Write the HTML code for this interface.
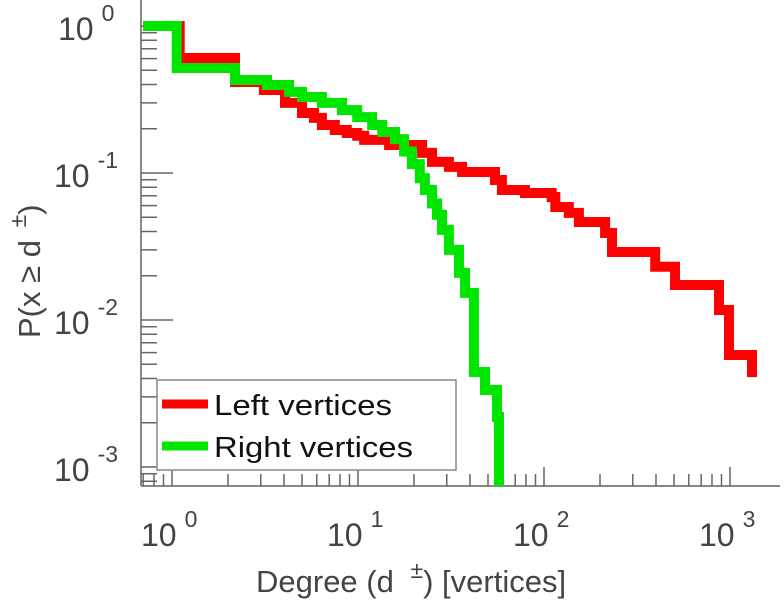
<!DOCTYPE html>
<html><head><meta charset="utf-8"><style>
body{margin:0;background:#fff;}
svg{display:block;font-family:"Liberation Sans",sans-serif;}
</style></head><body>
<svg id="chart" width="784" height="600" viewBox="0 0 784 600" xmlns="http://www.w3.org/2000/svg">
<g id="axes"></g>
<g id="series"></g>
<g id="legend">
<rect x="157" y="380" width="299" height="90" fill="#fff" stroke="#888" stroke-width="1.5"/>
<line x1="162" y1="404" x2="208" y2="404" stroke="#ff0000" stroke-width="9"/>
<text x="214" y="415" font-size="29" fill="#111" textLength="178" lengthAdjust="spacingAndGlyphs">Left vertices</text>
<line x1="162" y1="446" x2="208" y2="446" stroke="#00e600" stroke-width="9"/>
<text x="214" y="457" font-size="29" fill="#111" textLength="199" lengthAdjust="spacingAndGlyphs">Right vertices</text>
</g>
<text x="256" y="592" font-size="31" fill="#444">Degree (d <tspan dx="8" dy="-14" font-size="23">±</tspan><tspan dy="14">) [vertices]</tspan></text>
<text transform="translate(40,338) rotate(-90)" font-size="31" fill="#444">P(x ≥ d <tspan dx="4" dy="-14" font-size="23">±</tspan><tspan dy="14">)</tspan></text>
</svg>
<script>
const xTickExps=[0,1,2,3];
const yTickExps=[0,-1,-2,-3];
const leftX=[0.7,1.1,1.1,2.18,2.18,3.12,3.12,4.05,4.05,5.0,5.0,5.8,6.4,7.5,8.7,9.9,10.8,14.7,18.8,22.1,25,30.8,36.3,50.6,54.5,59.4,79,110,115,136,154,205,213,232,232,396,396,506,506,873,873,988,988,1313,1313];
const leftY=[1,1,0.606,0.606,0.416,0.416,0.367,0.367,0.30,0.30,0.256,0.237,0.212,0.196,0.187,0.179,0.168,0.155,0.155,0.137,0.119,0.110,0.1016,0.1016,0.0896,0.0766,0.0731,0.0687,0.0587,0.0535,0.0464,0.0464,0.0391,0.035,0.029,0.029,0.023,0.023,0.0173,0.0173,0.0117,0.0117,0.00578,0.00578,0.00409];
const rightX=[0.7,1.06,1.06,2.18,2.18,3.24,3.24,4.26,4.26,5.0,6.4,8.2,9.9,11.9,13.5,15.8,17.7,19.5,21.5,22.9,25,26.6,28.3,30.8,34.9,37.6,42.0,42.0,48.2,48.2,55.9,55.9,57.3];
const rightY=[1,1,0.518,0.518,0.429,0.429,0.397,0.397,0.356,0.329,0.30,0.268,0.240,0.212,0.19,0.17,0.14,0.115,0.092,0.0766,0.062,0.052,0.041,0.030,0.0209,0.0153,0.0105,0.00443,0.00443,0.00334,0.00334,0.00219,0.00073];

const X0=172,DX=186,Y0=26,DY=147,AX=141,AY=486,XR=780;
function sx(v){return X0+DX*Math.log10(v);}
function sy(v){return Y0-DY*Math.log10(v);}
const NS="http://www.w3.org/2000/svg";
function mk(tag,attrs,parent){const e=document.createElementNS(NS,tag);for(const k in attrs)e.setAttribute(k,attrs[k]);parent.appendChild(e);return e;}
const axes=document.getElementById('axes');
let l=mk('line',{x1:AX,y1:0,x2:AX,y2:AY,stroke:'#888','stroke-width':2},axes);


l=mk('line',{x1:AX,y1:AY,x2:XR,y2:AY,stroke:'#888','stroke-width':2},axes);


for(let e=-1;e<=3;e++){for(let m=1;m<10;m++){const v=m*Math.pow(10,e);const px=sx(v);if(px<AX||px>XR)continue;
 const t=mk('line',{x1:px,y1:AY,x2:px,y2:AY-(m===1?19:12),stroke:'#666','stroke-width':1.5},axes);
 
 }}
for(let e=-4;e<=0;e++){for(let m=1;m<10;m++){const v=m*Math.pow(10,e);const py=sy(v);if(py<0||py>AY)continue;
 const t=mk('line',{x1:AX,y1:py,x2:AX+(m===1?32:16),y2:py,stroke:'#666','stroke-width':1.5},axes);
 
 }}
xTickExps.forEach(e=>{const px=sx(Math.pow(10,e));
 const t=mk('text',{x:px-31,y:546,'font-size':32,fill:'#444'},axes);
 
 
 t.innerHTML='10<tspan dx="8" dy="-19" font-size="23">'+e+'</tspan>';});
yTickExps.forEach(e=>{const py=sy(Math.pow(10,e));
 const t=mk('text',{x:(e<0?54:58),y:py+14,'font-size':32,fill:'#444'},axes);
 
 
 t.innerHTML='10<tspan dx="8" dy="-19" font-size="23">'+e+'</tspan>';});
const ser=document.getElementById('series');
function draw(xs,ys,color,name){
 let d='M'+sx(xs[0]).toFixed(1)+','+Math.min(sy(ys[0]),AY).toFixed(1);
 for(let i=1;i<xs.length;i++){d+=' H'+sx(xs[i]).toFixed(1)+' V'+Math.min(sy(ys[i]),AY).toFixed(1);}
 const p=mk('path',{d:d,fill:'none',stroke:color,'stroke-width':10,'stroke-linejoin':'miter'},ser);
 
 }
draw(leftX,leftY,'#ff0000','left-vertices-line');
draw(rightX,rightY,'#00e600','right-vertices-line');
</script>
</body></html>
